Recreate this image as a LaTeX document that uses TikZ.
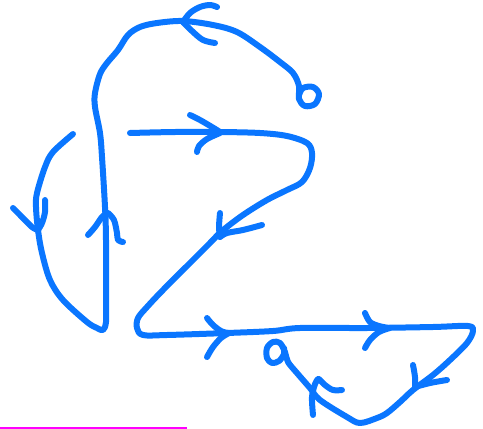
\documentclass[tikz,border=0pt]{standalone}
\definecolor{penblue}{RGB}{10,118,255}
\definecolor{penmag}{RGB}{255,0,255}
\tikzset{
  ink/.style={draw=penblue, line width=4.5pt, line cap=round, line join=round},
  inkcurve/.style={ink, smooth, tension=0.55},
}
\begin{document}
\begin{tikzpicture}[x=0.75pt, y=-0.75pt]
\useasboundingbox (0,0) rectangle (483,429);
% magenta rule at bottom
\draw[penmag, line width=1.2pt] (0,428) -- (187,428);

% ---- path A: top loop, arc, vertical, left loop
\draw[inkcurve] plot coordinates {
  (299,95) (303,88) (313,87) (319,94) (315,104) (305,106) (299,99) (299,86)
  (293,73) (280,62) (260,47) (237,32) (213,25) (183,21) (157,23) (140,27)
  (128,35) (118,50) (107,63) (100,74) (95,93) (95,107) (100,133) (102,157)
  (105,207) (106,240) (106,300) (106,322) (103,330) (97,328) (87,322)
  (63,300) (50,280) (42,253) (38,230) (36,207) (37,193) (45,167) (53,152)
  (73,134)};
% top arrow (pointing left)
\draw[inkcurve] plot coordinates {(217,7) (210,5) (200,7) (190,13) (183,22)};
\draw[inkcurve] plot coordinates {(183,22) (192,31) (203,40) (215,43)};
% left loop arrow (pointing down)
\draw[inkcurve] plot coordinates {(13,208) (20,215) (32,227) (38,230)};
\draw[inkcurve] plot coordinates {(45,200) (45,212) (42,223) (38,230)};
% vertical arrow (pointing up)
\draw[inkcurve] plot coordinates {(88,235) (95,227) (102,217) (107,213)};
\draw[inkcurve] plot coordinates {(108,213) (114,220) (117,233) (118,240) (123,242)};

% ---- path B: Z shape with bottom triangle and loop
\draw[inkcurve] plot coordinates {
  (130,133) (175,132) (220,132) (260,133) (287,136) (307,143) (312,153)
  (310,168) (302,182) (287,190) (267,200) (243,215) (222,231) (210,243)
  (190,263) (163,290) (147,307) (138,318) (137,328) (143,335) (167,335)
  (227,333) (273,331) (300,328) (367,328) (433,327) (468,326) (473,331)
  (467,343) (450,360) (433,375) (413,390) (400,402) (387,413) (377,418)
  (360,423) (347,417) (320,400) (310,388) (297,373) (288,362)
  (285,352) (280,343) (273,342) (267,348) (267,358) (272,363) (279,361)
  (284,354) (284,348)};
% arrow on top horizontal (right)
\draw[inkcurve] plot coordinates {(190,115) (200,120) (212,127) (220,132)};
\draw[inkcurve] plot coordinates {(197,152) (199,146) (207,139) (220,133)};
% arrow on diagonal (down-left)
\draw[inkcurve] plot coordinates {(220,213) (219,227) (220,237)};
\draw[inkcurve] plot coordinates {(262,225) (243,230) (227,233) (220,237)};
% arrow on bottom horizontal (right)
\draw[inkcurve] plot coordinates {(207,318) (213,325) (221,331) (228,333)};
\draw[inkcurve] plot coordinates {(207,357) (213,347) (221,338) (229,333)};
% second arrow on bottom horizontal (right)
\draw[inkcurve] plot coordinates {(365,313) (370,322) (379,326) (389,328)};
\draw[inkcurve] plot coordinates {(365,348) (370,340) (379,332) (390,328)};
% arrow on lower right edge (down-left)
\draw[inkcurve] plot coordinates {(413,365) (415,377) (415,387)};
\draw[inkcurve] plot coordinates {(447,380) (430,383) (415,387)};
% arrow near bottom loop (up-left)
\draw[inkcurve] plot coordinates {(313,415) (312,397) (315,384) (318,379)};
\draw[inkcurve] plot coordinates {(319,379) (325,385) (333,390) (342,390)};
\end{tikzpicture}
\end{document}
